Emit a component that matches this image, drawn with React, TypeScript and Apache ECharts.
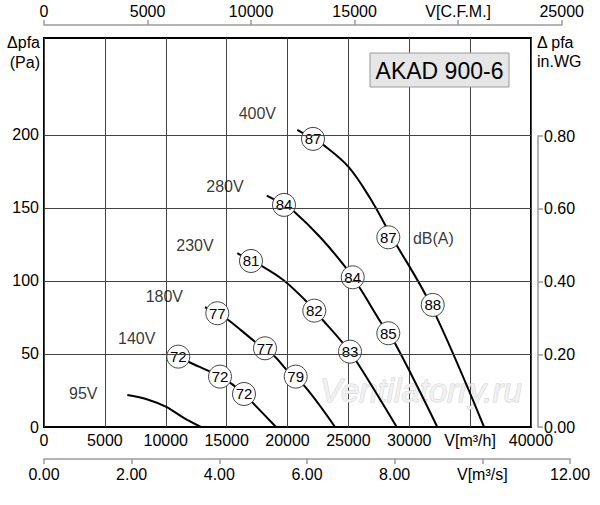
import { useEffect, useRef } from 'react'
import * as echarts from 'echarts'

const FONT = '"Liberation Sans", Arial, Helvetica, sans-serif'

// ── 风机曲线点 [V m³/h, Δpfa Pa] ─────────────────
const curve400 = [[20806, 203.4], [22095, 197.3], [22942, 193.2], [24994, 178.3], [26776, 156.8], [28559, 130.3], [31770, 83.6], [36142, 0]]
const curve280 = [[18292, 158.4], [19713, 152.1], [20534, 147.5], [22670, 130.1], [24723, 109.8], [25955, 95], [27737, 70.7], [28830, 57.3], [32305, 0]]
const curve230 = [[15877, 119], [17002, 113.7], [17741, 111], [19655, 100.7], [21577, 85.8], [22892, 73.3], [24452, 58.4], [25684, 44.7], [28970, 0]]
const curve180 = [[13224, 82], [14235, 77.9], [15138, 73.3], [17331, 58.4], [18973, 48.1], [19935, 39], [21438, 27.6], [23902, 0]]
const curve140 = [[11031, 48.2], [11852, 44.7], [13635, 37.9], [14456, 34.5], [15417, 29.5], [16427, 22.6], [17191, 16.2], [19056, 0]]
const curve95 = [[6842, 21.9], [8378, 19.2], [9996, 13.9], [11442, 6.5], [12896, 0]]
const curves = [curve400, curve280, curve230, curve180, curve140, curve95]

// dB(A) 圆圈 [V m³/h, Δpfa Pa, dB]
const db400 = [[22095, 197.3, 87], [28281, 129.9, 87], [31928, 83.6, 88]]
const db280 = [[19713, 152.1, 84], [25356, 102.5, 84], [28281, 64.2, 85]]
const db230 = [[17002, 113.7, 81], [22202, 79.7, 82], [25134, 51.6, 83]]
const db180 = [[14235, 77.9, 77], [18152, 53.9, 77], [20674, 34.5, 79]]
const db140 = [[11031, 48.2, 72], [14456, 34.5, 72], [16427, 22.6, 72]]
const dbPoints = [...db400, ...db280, ...db230, ...db180, ...db140]

// 电压标注 [V m³/h, Δpfa Pa, text]
const curveLabels = [
  [17521, 214.9, '400V'],
  [14867, 165, '280V'],
  [12403, 124, '230V'],
  [9882, 89.2, '180V'],
  [7614, 60.3, '140V'],
  [3228, 23.1, '95V'],
  [31978, 129.2, 'dB(A)'],
]

const gridLinesPa = [50, 100, 150, 200]
const PA_MAX = 266.4

const textStyle = { fontFamily: FONT, fontSize: 16, fill: '#000' }

// 副坐标轴的公共样式（灰色轴线，外向刻度）
const sideAxis = {
  axisLine: { show: true, onZero: false, lineStyle: { color: '#9a9a9a', width: 1.5 } },
  axisTick: { show: true, length: 5, lineStyle: { color: '#9a9a9a', width: 1.5 } },
  splitLine: { show: false },
}

function buildOption() {
  const curveSeries = curves.map((data, i) => ({
    type: 'line',
    name: `c${i}`,
    data,
    smooth: 0.35,
    symbol: 'none',
    lineStyle: { color: '#000', width: 2 },
    z: 3,
    silent: true,
  }))

  return {
    animation: false,
    backgroundColor: '#fff',
    grid: [
      { left: 44, top: 38, width: 487, height: 389, show: true, borderColor: '#000', borderWidth: 2, backgroundColor: 'transparent' },
      { left: 44, top: 25, width: 517.7, height: 10 },
      { left: 44, top: 449, width: 526, height: 10 },
      { left: 528, top: 136, width: 10, height: 291 },
    ],
    xAxis: [
      {
        gridIndex: 0, type: 'value', min: 0, max: 40000, interval: 5000,
        axisLine: { show: false, onZero: false }, axisTick: { show: false },
        axisLabel: {
          margin: 5, fontSize: 16, color: '#000', fontFamily: FONT,
          formatter: (v: number) => (v === 35000 ? 'V[m³/h]' : String(v)),
        },
        splitLine: { show: true, lineStyle: { color: '#444', width: 1 } },
      },
      {
        ...sideAxis,
        gridIndex: 1, type: 'value', position: 'top', min: 0, max: 25000, interval: 5000,
        axisLabel: {
          margin: 6, fontSize: 16, color: '#000', fontFamily: FONT,
          formatter: (v: number) => (v === 20000 ? 'V[C.F.M.]' : String(v)),
        },
      },
      {
        ...sideAxis,
        gridIndex: 2, type: 'value', position: 'bottom', min: 0, max: 12, interval: 2,
        axisLabel: {
          margin: 7, fontSize: 16, color: '#000', fontFamily: FONT,
          formatter: (v: number) => (v === 10 ? 'V[m³/s]' : v.toFixed(2)),
        },
      },
      { gridIndex: 3, type: 'value', show: false, min: 0, max: 1 },
    ],
    yAxis: [
      {
        gridIndex: 0, type: 'value', min: 0, max: PA_MAX, interval: 50,
        axisLine: { show: false, onZero: false }, axisTick: { show: false },
        axisLabel: {
          margin: 5, fontSize: 16, color: '#000', fontFamily: FONT,
          formatter: (v: number) => (v <= 200 && v % 50 === 0 ? String(v) : ''),
        },
        splitLine: { show: false },
      },
      { gridIndex: 1, type: 'value', show: false, min: 0, max: 1 },
      { gridIndex: 2, type: 'value', show: false, min: 0, max: 1 },
      {
        ...sideAxis,
        gridIndex: 3, type: 'value', position: 'right', min: 0, max: 0.8, interval: 0.2,
        axisLabel: {
          margin: 6, fontSize: 16, color: '#000', fontFamily: FONT,
          formatter: (v: number) => v.toFixed(2),
        },
      },
    ],
    graphic: [
      {
        type: 'text', x: 40, y: 42, z: 1,
        style: { ...textStyle, text: '\u0394pfa', textAlign: 'right', textVerticalAlign: 'middle' },
      },
      {
        type: 'text', x: 40, y: 62, z: 1,
        style: { ...textStyle, text: '(Pa)', textAlign: 'right', textVerticalAlign: 'middle' },
      },
      {
        type: 'text', x: 537, y: 42, z: 1,
        style: { ...textStyle, text: '\u0394 pfa', textAlign: 'left', textVerticalAlign: 'middle' },
      },
      {
        type: 'text', x: 537, y: 61, z: 1,
        style: { ...textStyle, text: 'in.WG', textAlign: 'left', textVerticalAlign: 'middle' },
      },
      {
        type: 'rect', z: 5,
        shape: { x: 370, y: 53, width: 139, height: 34 },
        style: { fill: '#e6e6e6', stroke: '#9a9a9a', lineWidth: 1 },
      },
      {
        type: 'text', x: 439.5, y: 71, z: 6,
        style: { fontFamily: FONT, fontSize: 23, fill: '#000', text: 'AKAD 900-6', textAlign: 'center', textVerticalAlign: 'middle' },
      },
      {
        type: 'text', x: 421, y: 390, z: 1,
        style: {
          fontFamily: FONT, fontSize: 33, fontStyle: 'italic', text: 'Ventilatorry.ru',
          fill: '#f1f1f1', stroke: '#cfcfcf', lineWidth: 1,
          textAlign: 'center', textVerticalAlign: 'middle',
        },
      },
    ],
    series: [
      {
        type: 'line',
        name: 'grid',
        data: [],
        silent: true,
        z: 1,
        markLine: {
          silent: true,
          symbol: 'none',
          label: { show: false },
          lineStyle: { color: '#444', width: 1, type: 'solid' },
          data: gridLinesPa.map((v) => ({ yAxis: v })),
        },
      },
      ...curveSeries,
      {
        type: 'scatter',
        name: 'dB',
        data: dbPoints,
        symbol: 'circle',
        symbolSize: 23,
        itemStyle: { color: '#fff', borderColor: '#444', borderWidth: 1, opacity: 1 },
        label: {
          show: true, position: 'inside', fontSize: 15, color: '#000', fontFamily: FONT,
          formatter: (p: { value: number[] }) => String(p.value[2]),
        },
        z: 4,
        silent: true,
      },
      {
        type: 'scatter',
        name: 'labels',
        data: curveLabels,
        symbolSize: 1,
        itemStyle: { color: 'transparent' },
        label: {
          show: true, position: 'inside', fontSize: 16, color: '#000', fontFamily: FONT,
          formatter: (p: { value: (number | string)[] }) => String(p.value[2]),
        },
        z: 4,
        silent: true,
      },
    ],
  }
}

export default function App() {
  const ref = useRef<HTMLDivElement>(null)

  useEffect(() => {
    if (!ref.current) return
    const chart = echarts.init(ref.current, null, { renderer: 'svg' })
    chart.setOption(buildOption() as echarts.EChartsOption)
    return () => chart.dispose()
  }, [])

  return (
    <div
      ref={ref}
      style={{ position: 'absolute', left: 0, top: 0, width: 600, height: 505, background: '#fff' }}
    />
  )
}
